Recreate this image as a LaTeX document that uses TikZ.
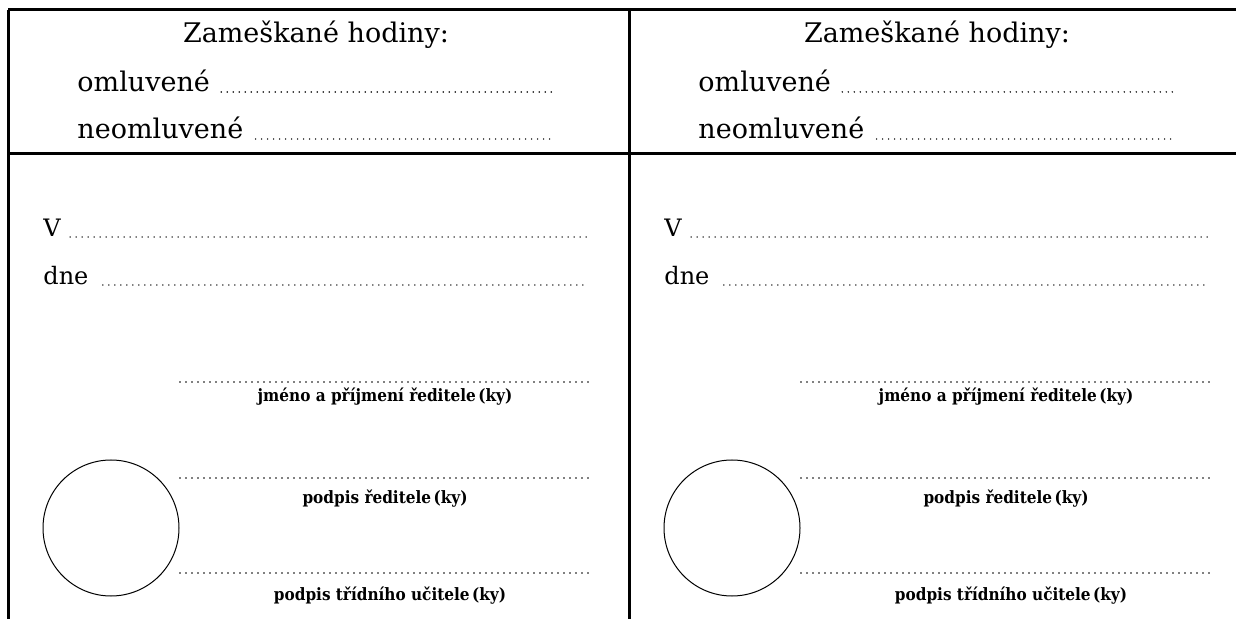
\documentclass[tikz,border=0pt]{standalone}
\usepackage{fontspec}
\setmainfont{DejaVu Serif}
\newfontfamily\labelfont{DejaVu Serif Condensed}[BoldFont={DejaVu Serif Condensed Bold}]
\usetikzlibrary{positioning}
\tikzset{
  frame/.style={line width=1.5pt},
  dotline/.style={line width=0.8pt, line cap=round, dash pattern=on 0pt off 3pt},
  bigtext/.style={inner sep=0pt, font=\fontsize{13.5}{16}\selectfont},
  midtext/.style={inner sep=0pt, font=\fontsize{12}{14}\selectfont},
  smalltext/.style={inner sep=0pt, font=\labelfont\bfseries\fontsize{8.5}{10}\selectfont},
}
\begin{document}
\begin{tikzpicture}[x=0.5pt, y=-0.5pt]
\useasboundingbox (0,0) rectangle (1236,619);
\draw[frame] (8,10) -- (1236,10);
\draw[frame] (8,154) -- (1236,154);
\draw[frame] (8,10) -- (8,619);
\draw[frame] (629,10) -- (629,619);
\foreach \p/\sx in {L/0,R/621} {
  \begin{scope}[xshift=\sx*0.5pt]
  \node[bigtext, anchor=base] (head\p) at (316,43) {Zameškané hodiny:};
  \node[bigtext, anchor=base west] (oml\p) at (77,92) {omluvené};
  \node[bigtext, anchor=base west] (neoml\p) at (77,139) {neomluvené};
  \coordinate (omlend\p) at (555,92);
  \coordinate (neomlend\p) at (555,139);
  \draw[dotline] ([xshift=5.5pt]oml\p.base east) -- (omlend\p);
  \draw[dotline] ([xshift=6pt]neoml\p.base east) -- (neomlend\p);
  \node[midtext, anchor=base west] (place\p) at (43,237) {V};
  \node[midtext, anchor=base west] (date\p) at (43,285) {dne};
  \coordinate (placeend\p) at (588,237);
  \coordinate (dateend\p) at (588,285);
  \draw[dotline] ([xshift=4.5pt]place\p.base east) -- (placeend\p);
  \draw[dotline] ([xshift=7pt]date\p.base east) -- (dateend\p);
  \coordinate (namea\p) at (180,382);
  \coordinate (nameb\p) at (588,382);
  \draw[dotline] (namea\p) -- (nameb\p);
  \node[smalltext, anchor=base] (namelab\p) at (385,402) {jméno a příjmení ředitele\kern1.2pt(ky)};
  \coordinate (signa\p) at (180,478);
  \coordinate (signb\p) at (588,478);
  \draw[dotline] (signa\p) -- (signb\p);
  \node[smalltext, anchor=base] (signlab\p) at (385,503) {podpis ředitele\kern1.2pt(ky)};
  \coordinate (teacha\p) at (180,573);
  \coordinate (teachb\p) at (588,573);
  \draw[dotline] (teacha\p) -- (teachb\p);
  \node[smalltext, anchor=base] (teachlab\p) at (390,600) {podpis třídního učitele\kern1.2pt(ky)};
  \node[circle, draw, line width=0.5pt, minimum size=68pt, inner sep=0pt] (seal\p) at (111,528) {};
  \end{scope}
}
\end{tikzpicture}
\end{document}
